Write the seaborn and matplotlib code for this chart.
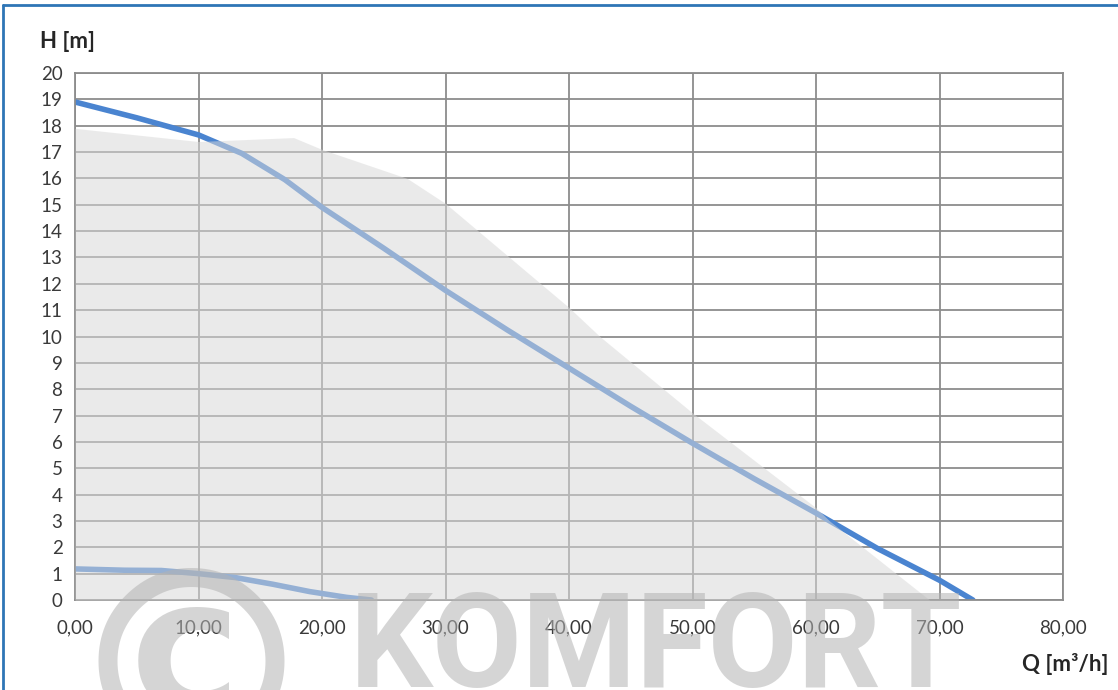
import matplotlib
matplotlib.use("Agg")
import matplotlib.pyplot as plt
import seaborn as sns
import pandas as pd
from matplotlib.lines import Line2D

# --- data ---
q_main = [0, 5, 10, 13.5, 17, 20, 25, 30, 35, 40, 45, 50, 55, 60, 65, 70, 72.7]
h_main = [18.9, 18.3, 17.65, 16.95, 15.95, 14.9, 13.35, 11.75, 10.25, 8.8, 7.35, 5.95, 4.6, 3.3, 1.95, 0.75, 0]

q_low = [0, 4, 7, 10, 13, 16, 19, 22, 24]
h_low = [1.18, 1.13, 1.12, 1.0, 0.85, 0.6, 0.32, 0.1, 0]

q_env = [0, 10, 17.7, 20, 26.9, 30, 40, 42.5, 50, 60, 61.1, 63.8, 66.5, 69.2]
h_env = [17.9, 17.4, 17.55, 17.1, 16.0, 15.05, 11.1, 10.0, 7.1, 3.5, 3.0, 2.0, 1.0, 0]

x_ticks = [0, 10, 20, 30, 40, 50, 60, 70, 80]
x_labels = ["0,00", "10,00", "20,00", "30,00", "40,00", "50,00", "60,00", "70,00", "80,00"]
y_ticks = list(range(0, 21))

sns.set_style("white")
plt.rcParams["font.family"] = ["Lato", "DejaVu Sans"]

fig = plt.figure(figsize=(11.18, 6.90), dpi=100)
ax = fig.add_axes([75 / 1118, 1 - 600 / 690, (1063 - 75) / 1118, (600 - 73) / 690])

grid_c = "#8c8c8c"
ax.set_xlim(0, 80)
ax.set_ylim(0, 20)
ax.set_xticks(x_ticks)
ax.set_xticklabels(x_labels)
ax.set_yticks(y_ticks)
ax.grid(True, color=grid_c, linewidth=1.3, zorder=0)
ax.set_axisbelow(True)
for s in ax.spines.values():
    s.set_color(grid_c)
    s.set_linewidth(1.3)
ax.tick_params(axis="both", which="both", length=5, width=1.3, color=grid_c,
               labelsize=13.5, labelcolor="#3a3a3a", direction="out")
ax.tick_params(axis="x", pad=9)
ax.tick_params(axis="y", pad=4)

line_c = "#4a84d0"
df_main = pd.DataFrame({"Q": q_main, "H": h_main})
df_low = pd.DataFrame({"Q": q_low, "H": h_low})
sns.lineplot(data=df_main, x="Q", y="H", ax=ax, color=line_c, linewidth=4.0,
             sort=False, estimator=None, zorder=2)
sns.lineplot(data=df_low, x="Q", y="H", ax=ax, color=line_c, linewidth=4.0,
             sort=False, estimator=None, zorder=2)

ax.fill_between(q_env, h_env, 0, color=(0.85, 0.85, 0.85), alpha=0.53,
                linewidth=0, zorder=3)
ax.set_xlabel("")
ax.set_ylabel("")

fig.text(40 / 1118, 1 - 42 / 690, "H [m]", fontsize=16, fontweight="bold",
         color="#262626", ha="left", va="center")
fig.text(1108 / 1118, 1 - 664 / 690, "Q [m³/h]", fontsize=16, fontweight="bold",
         color="#262626", ha="right", va="center")

# watermark
wm_c = (0.70, 0.70, 0.70)
fig.text(191 / 1118, 1 - 683 / 690, "©", fontsize=185, fontweight="bold",
         family=["DejaVu Sans"], color=wm_c, alpha=0.55,
         ha="center", va="center", zorder=10)
fig.text(350 / 1118, 1 - 588 / 690, "KOMFORT", fontsize=94, fontweight="bold",
         family=["Roboto", "DejaVu Sans"],
         color=wm_c, alpha=0.55, ha="left", va="top", zorder=10)

# frame
fig.add_artist(Line2D([3 / 1118, 3 / 1118], [0, 1 - 5 / 690], transform=fig.transFigure,
                      color="#2e75b6", linewidth=2))
fig.add_artist(Line2D([3 / 1118, 1], [1 - 5 / 690, 1 - 5 / 690], transform=fig.transFigure,
                      color="#2e75b6", linewidth=2))

fig.savefig("out.png", dpi=100)
